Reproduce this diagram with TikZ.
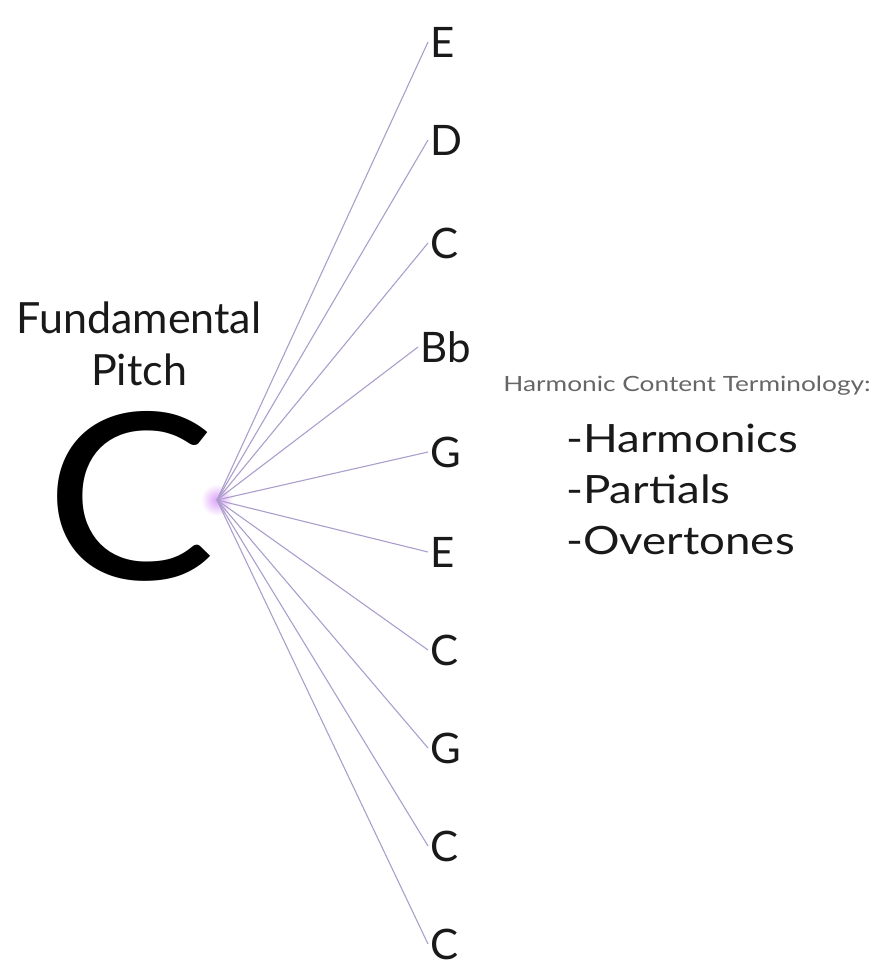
\documentclass[tikz,border=0pt]{standalone}
\usepackage{fontspec}
\setmainfont{Lato}
\usetikzlibrary{positioning}
\definecolor{overtone}{RGB}{172,158,204}
\definecolor{glow}{RGB}{205,120,245}
\definecolor{ink}{RGB}{25,25,25}

\begin{document}
\begin{tikzpicture}[x=1pt,y=-1pt]
\tikzstyle{every node}=[font=\fontsize{42}{44}\selectfont, text=ink]
\tikzstyle{partial}=[anchor=west, inner sep=2pt]
\tikzstyle{ray}=[draw=overtone, line width=1.1pt]
\useasboundingbox (0,0) rectangle (875,971);
% fundamental
\node[align=center, font=\fontsize{43}{52}\selectfont] (title) at (139,344) {Fundamental\\Pitch};
\node[font=\fontsize{232}{232}\selectfont, text=black, inner sep=0pt, xscale=1.1] (fund) at (131,496) {C};
\coordinate (hub) at (217,500);
\shade[inner color=glow, outer color=white, opacity=0.7] (hub) circle (16);
% overtones
\node[partial] (p1) at (428,42) {E};
\node[partial] (p2) at (428,140) {D};
\node[partial] (p3) at (428,243) {C};
\node[partial] (p4) at (418,347) {Bb};
\node[partial] (p5) at (428,452) {G};
\node[partial] (p6) at (428,552) {E};
\node[partial] (p7) at (428,650) {C};
\node[partial] (p8) at (428,748) {G};
\node[partial] (p9) at (428,846) {C};
\node[partial] (p10) at (428,944) {C};
\foreach \p in {p1,p2,p3,p4,p5,p6,p7,p8,p9,p10}
  \draw[ray] (hub) -- (\p.west);
% terminology
\node[font=\fontsize{21}{22}\selectfont, text=black!60, xscale=1.25] (term) at (687,386) {Harmonic Content Terminology:};
\node[anchor=west, align=left, font=\fontsize{39}{51}\selectfont, inner sep=0pt, xscale=1.17] (list) at (566,489) {-Harmonics\\-Partials\\-Overtones};
\end{tikzpicture}
\end{document}
